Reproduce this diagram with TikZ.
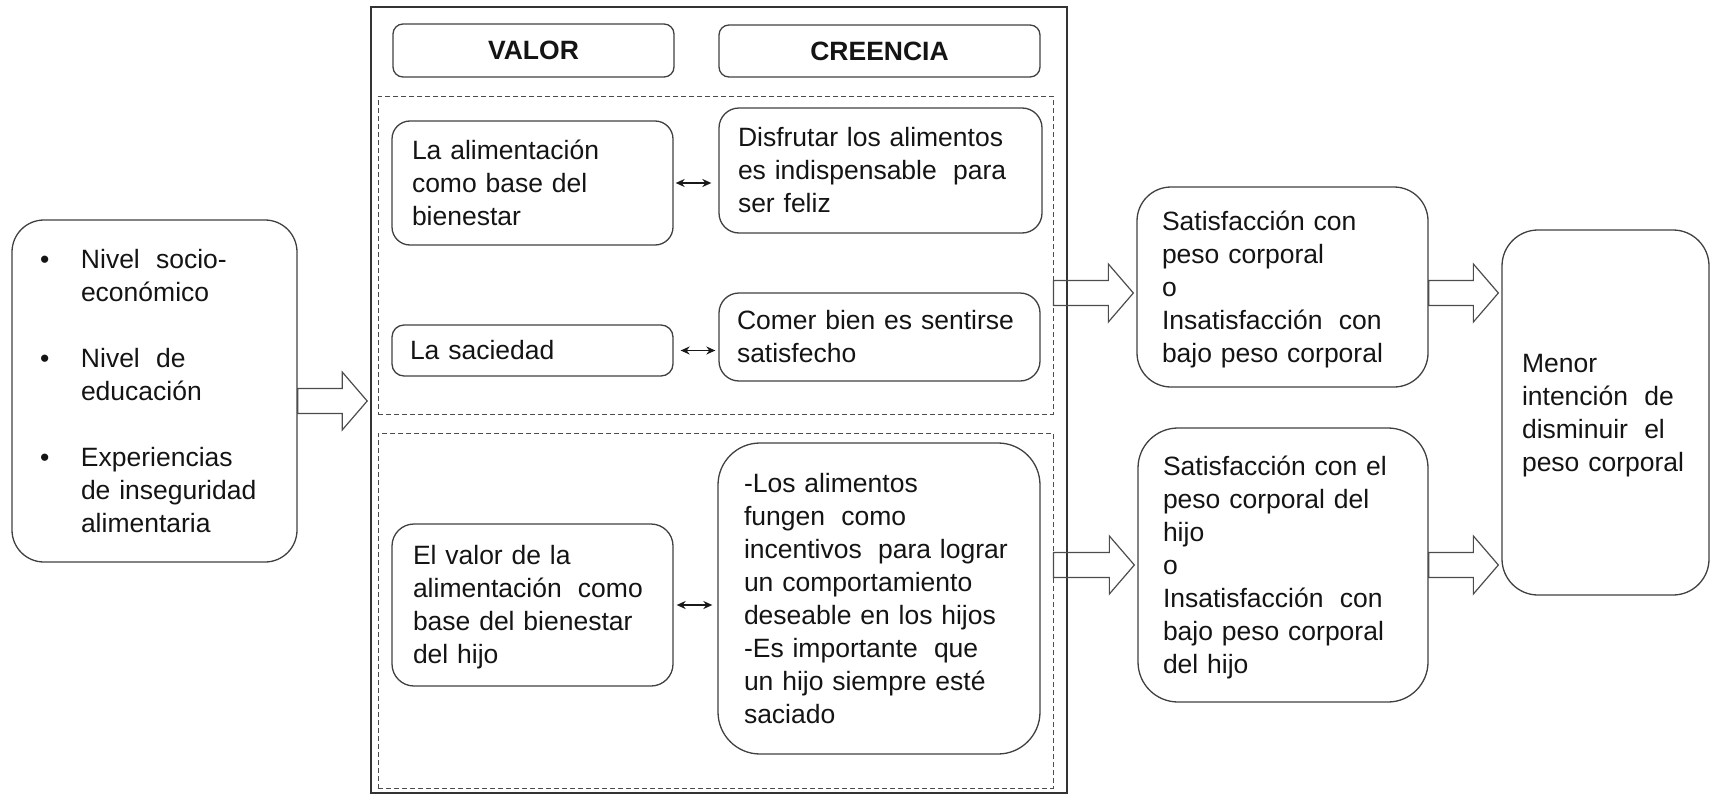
\documentclass[tikz,border=0pt]{standalone}
\usepackage{fontspec}
\setmainfont{Liberation Sans}
\usetikzlibrary{arrows.meta,calc}
\newcommand{\dsp}{\hspace{0.28em}}
\newcommand{\ls}{\rule[-7.5pt]{0pt}{33pt}}
\newcommand{\blockarr}[3]{\draw[barrow] let \p1=(#1), \p2=(#2), \p3=(#3) in
  (\x1,\y3+12.5pt) -- (\x2-28pt,\y3+12.5pt) -- (\x2-28pt,\y3+29pt) -- (\x2-3pt,\y3)
  -- (\x2-28pt,\y3-29pt) -- (\x2-28pt,\y3-12.5pt) -- (\x1,\y3-12.5pt) -- cycle;}
\tikzset{
  box/.style={draw=black!75, line width=1.3pt, rounded corners=#1, align=left,
    inner ysep=0pt, text=black!92, font=\fontsize{26.5}{33}\selectfont},
  box/.default=18pt,
  hdr/.style={draw=black!75, line width=1.3pt, rounded corners=10pt, align=center,
    inner sep=0pt, text=black!92, font=\fontsize{26.5}{33}\selectfont\bfseries},
  dashbox/.style={draw=black!70, line width=1pt, dash pattern=on 5pt off 3pt, inner sep=0pt},
  outerbox/.style={draw=black!80, line width=1.6pt, inner sep=0pt},
  barrow/.style={draw=black!70, line width=1.2pt, line join=miter},
  dbl/.style={{Stealth[length=9pt,width=8pt]}-{Stealth[length=9pt,width=8pt]}, line width=1.6pt, black!90}
}
\begin{document}
\begin{tikzpicture}[x=1pt,y=-1pt]
\useasboundingbox (0,0) rectangle (1711,795);

% left box
\node[box=32pt, minimum width=285pt, minimum height=342pt, text width=229pt, inner xsep=28pt] (left) at (154.5,391) {\ls\makebox[41pt][l]{\textbullet}Nivel \dsp socio-\\
\hspace*{41pt}económico\\[33pt]
\makebox[41pt][l]{\textbullet}Nivel \dsp de\\
\hspace*{41pt}educación\\[33pt]
\makebox[41pt][l]{\textbullet}Experiencias\\
\hspace*{41pt}de inseguridad\\
\hspace*{41pt}alimentaria\ls};

% outer frame and dashed groups
\node[outerbox, minimum width=696pt, minimum height=786pt] (outer) at (719,400) {};
\node[dashbox, minimum width=675pt, minimum height=318pt] (dash1) at (715.5,255) {};
\node[dashbox, minimum width=675pt, minimum height=355pt] (dash2) at (715.5,610.5) {};

% headers
\node[hdr, minimum width=281pt, minimum height=53pt] (hvalor) at (533.5,50.5) {VALOR};
\node[hdr, minimum width=321pt, minimum height=52pt] (hcreen) at (879.5,51) {CREENCIA};

% group 1
\node[box=18pt, minimum width=281pt, minimum height=124pt, text width=241pt, inner xsep=20pt] (alim) at (532.5,183) {\ls La alimentación\\como base del\\bienestar\ls};
\node[box=20pt, minimum width=323pt, minimum height=125pt, text width=285pt, inner xsep=19pt] (disf) at (880.5,170.5) {\ls Disfrutar los alimentos\\es indispensable \dsp para\\ser feliz\ls};
\node[box=12pt, minimum width=281pt, minimum height=51pt, text width=245pt, inner xsep=18pt] (sac) at (532.5,350.5) {\ls La saciedad\ls};
\node[box=20pt, minimum width=321pt, minimum height=88pt, text width=285pt, inner xsep=18pt] (comer) at (879.5,337) {\ls Comer bien es sentirse\\satisfecho\ls};

% group 2
\node[box=22pt, minimum width=281pt, minimum height=162pt, text width=239pt, inner xsep=21pt] (valor) at (532.5,605) {\ls El valor de la\\alimentación \dsp como\\base del bienestar\\del hijo\ls};
\node[box=42pt, minimum width=322pt, minimum height=311pt, text width=270pt, inner xsep=26pt] (losal) at (879,598.5) {\ls -Los alimentos\\fungen \dsp como\\incentivos \dsp para lograr\\un comportamiento\\deseable en los hijos\\-Es importante \dsp que\\un hijo siempre esté\\saciado\ls};

% right side
\node[box=34pt, minimum width=291pt, minimum height=200pt, text width=241pt, inner xsep=25pt] (sat1) at (1282.5,287) {\ls Satisfacción con\\peso corporal\\o\\Insatisfacción \dsp con\\bajo peso corporal\ls};
\node[box=40pt, minimum width=290pt, minimum height=274pt, text width=240pt, inner xsep=25pt] (sat2) at (1283,565) {\ls Satisfacción con el\\peso corporal del\\hijo\\o\\Insatisfacción \dsp con\\bajo peso corporal\\del hijo\ls};
\node[box=36pt, minimum width=207pt, minimum height=365pt, text width=167pt, inner xsep=20pt] (menor) at (1605.5,412.5) {\ls Menor\\intención \dsp de\\disminuir \dsp el\\peso corporal\ls};

% double arrows
\draw[dbl, shorten <=2pt, shorten >=7pt] (alim.east) -- (alim.east -| disf.west);
\draw[dbl, shorten <=7pt, shorten >=3pt] (sac.east) -- (sac.east -| comer.west);
\draw[dbl, shorten <=3pt, shorten >=5pt] (valor.east) -- (valor.east -| losal.west);

% block arrows
\blockarr{left.east}{outer.west}{[yshift=-10pt]left.east}
\blockarr{dash1.east}{sat1.west}{[yshift=-6pt]sat1.west}
\blockarr{sat1.east}{menor.west}{[yshift=-6pt]sat1.west}
\blockarr{dash2.east}{sat2.west}{sat2.west}
\blockarr{sat2.east}{menor.west}{sat2.west}
\end{tikzpicture}
\end{document}
